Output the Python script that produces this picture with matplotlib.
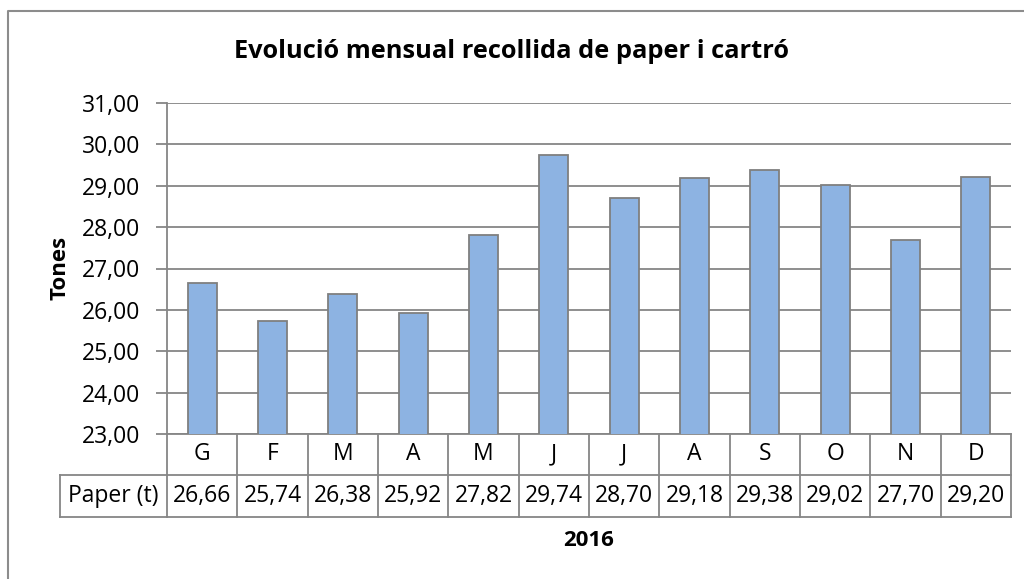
import matplotlib.pyplot as plt
import matplotlib.transforms as mtransforms
from matplotlib.lines import Line2D

plt.rcParams['font.family'] = ['Open Sans', 'DejaVu Sans']

months = ['G', 'F', 'M', 'A', 'M', 'J', 'J', 'A', 'S', 'O', 'N', 'D']
paper = [26.66, 25.74, 26.38, 25.92, 27.82, 29.74, 28.70, 29.18, 29.38, 29.02, 27.70, 29.20]
series_name = 'Paper (t)'
yticks = [23, 24, 25, 26, 27, 28, 29, 30, 31]

grid_col = '#868686'
bar_col = '#8DB3E2'
fs = 16.5

fig = plt.figure(figsize=(10.24, 5.79), dpi=100)
W, H = 1024, 579
ax = fig.add_axes([167 / W, 1 - 434 / H, (1011 - 167) / W, (434 - 103) / H])

x = list(range(len(months)))
ax.bar(x, paper, width=0.41, color=bar_col, edgecolor='#7F7F7F', linewidth=1.3, zorder=3)
ax.set_xlim(-0.5, len(months) - 0.5)
ax.set_ylim(23, 31)
ax.set_yticks(yticks)
ax.set_yticklabels(['{:.2f}'.format(v).replace('.', ',') for v in yticks], fontsize=fs)
ax.yaxis.grid(True, color=grid_col, linewidth=1.3, zorder=0)
ax.set_xticks([])
for s in ['top', 'right', 'bottom']:
    ax.spines[s].set_visible(False)
ax.spines['left'].set_color(grid_col)
ax.spines['left'].set_linewidth(1.3)
ax.tick_params(axis='y', length=8, width=1.3, color=grid_col, pad=11)

# data table under the plot
trans = mtransforms.blended_transform_factory(ax.transData, ax.transAxes)
r1 = -41 / 331
r2 = -83 / 331
left = -107 / 844
lkw = dict(color=grid_col, linewidth=1.3, clip_on=False)
ax.plot([-0.5, 11.5], [0, 0], transform=trans, **lkw)
ax.plot([-0.5, 11.5], [r1, r1], transform=trans, **lkw)
ax.plot([-0.5, 11.5], [r2, r2], transform=trans, **lkw)
ax.plot([left, 0], [r1, r1], transform=ax.transAxes, **lkw)
ax.plot([left, 0], [r2, r2], transform=ax.transAxes, **lkw)
ax.plot([left, left], [r1, r2], transform=ax.transAxes, **lkw)
for i in range(len(months) + 1):
    ax.plot([i - 0.5, i - 0.5], [0, r2], transform=trans, **lkw)
for i, (m, v) in enumerate(zip(months, paper)):
    ax.text(i, r1 / 2, m, transform=trans, ha='center', va='center', fontsize=fs)
    ax.text(i, (r1 + r2) / 2, '{:.2f}'.format(v).replace('.', ','), transform=trans,
            ha='center', va='center', fontsize=fs)
ax.text(left / 2, (r1 + r2) / 2, series_name, transform=ax.transAxes,
        ha='center', va='center', fontsize=fs)

fig.text(512 / W, 1 - 52 / H, 'Evolució mensual recollida de paper i cartró',
         ha='center', va='center', fontsize=18.3, fontweight='bold')
fig.text(60 / W, 1 - 268 / H, 'Tones', rotation=90, ha='center', va='center',
         fontsize=16, fontweight='bold')
fig.text(589 / W, 1 - 541 / H, '2016', ha='center', va='center',
         fontsize=16, fontweight='bold')

# chart frame
fig.add_artist(Line2D([8 / W, 8 / W, 1], [0, 1 - 11 / H, 1 - 11 / H],
                      transform=fig.transFigure, color='#8C8C8C', linewidth=1.5))

fig.savefig('out.png', dpi=100)
